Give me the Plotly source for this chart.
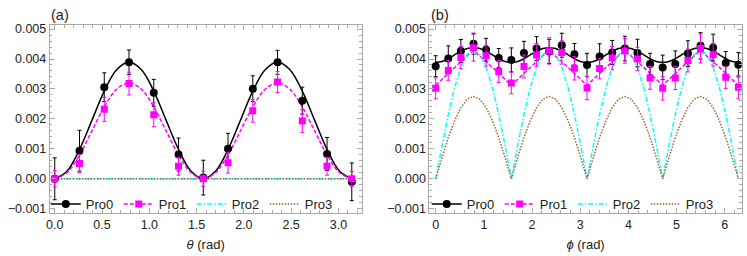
import numpy as np
import plotly.graph_objects as go

# ---------------- data ----------------
theta_pts = [0.0, 0.2618, 0.5236, 0.7854, 1.0472, 1.3090, 1.5708,
             1.8326, 2.0944, 2.3562, 2.6180, 2.8798, 3.1416]
pro0_a_pts = [0.00000, 0.00094, 0.00306, 0.00389, 0.00287, 0.00081, 0.00004,
              0.00100, 0.00301, 0.00389, 0.00261, 0.00083, -0.00010]
pro0_a_err = [0.00070, 0.00068, 0.00048, 0.00041, 0.00045, 0.00055, 0.00058,
              0.00052, 0.00043, 0.00040, 0.00045, 0.00055, 0.00063]
pro1_a_pts = [0.00000, 0.00051, 0.00232, 0.00318, 0.00214, 0.00042, 0.00000,
              0.00054, 0.00227, 0.00323, 0.00193, 0.00042, 0.00000]
pro1_a_err = [0.00027, 0.00030, 0.00040, 0.00038, 0.00040, 0.00030, 0.00025,
              0.00035, 0.00038, 0.00035, 0.00038, 0.00030, 0.00025]

theta_curve = np.linspace(0, np.pi, 25)
pro0_a_curve = [0.0, 0.00026, 0.00098, 0.00195, 0.00293, 0.00364, 0.00390,
                0.00364, 0.00293, 0.00195, 0.00098, 0.00026, 0.0,
                0.00026, 0.00098, 0.00195, 0.00293, 0.00364, 0.00390,
                0.00364, 0.00293, 0.00195, 0.00098, 0.00026, 0.0]
pro1_a_curve = [0.0, 0.00021, 0.00080, 0.00160, 0.00240, 0.00299, 0.00320,
                0.00299, 0.00240, 0.00160, 0.00080, 0.00021, 0.0,
                0.00021, 0.00080, 0.00160, 0.00240, 0.00299, 0.00320,
                0.00299, 0.00240, 0.00160, 0.00080, 0.00021, 0.0]
theta_flat = [0.0, 3.1416]
pro2_a_curve = [0.0, 0.0]
pro3_a_curve = [0.0, 0.0]

phi_pts = [0.0, 0.2618, 0.5236, 0.7854, 1.0472, 1.3090, 1.5708, 1.8326,
           2.0944, 2.3562, 2.6180, 2.8798, 3.1416, 3.4034, 3.6652, 3.9270,
           4.1888, 4.4506, 4.7124, 4.9742, 5.2360, 5.4978, 5.7596, 6.0214,
           6.2832]
pro0_b_pts = [0.00376, 0.00402, 0.00427, 0.00451, 0.00431, 0.00403, 0.00397,
              0.00420, 0.00435, 0.00425, 0.00446, 0.00416, 0.00380, 0.00408,
              0.00422, 0.00435, 0.00420, 0.00383, 0.00372, 0.00383, 0.00418,
              0.00444, 0.00438, 0.00387, 0.00381]
pro0_b_err = [0.00035, 0.00042, 0.00038, 0.00035, 0.00038, 0.00032, 0.00040,
              0.00039, 0.00040, 0.00040, 0.00040, 0.00036, 0.00039, 0.00043,
              0.00040, 0.00041, 0.00046, 0.00036, 0.00041, 0.00044, 0.00043,
              0.00044, 0.00045, 0.00038, 0.00041]
pro1_b_pts = [0.00302, 0.00362, 0.00405, 0.00438, 0.00411, 0.00358, 0.00320,
              0.00375, 0.00413, 0.00427, 0.00422, 0.00369, 0.00303, 0.00368,
              0.00403, 0.00427, 0.00400, 0.00337, 0.00302, 0.00337, 0.00395,
              0.00435, 0.00414, 0.00339, 0.00306]
pro1_b_err = [0.00035, 0.00033, 0.00037, 0.00045, 0.00035, 0.00037, 0.00036,
              0.00038, 0.00039, 0.00044, 0.00039, 0.00039, 0.00039, 0.00034,
              0.00039, 0.00041, 0.00039, 0.00038, 0.00039, 0.00039, 0.00038,
              0.00048, 0.00038, 0.00037, 0.00039]

phi_curve = np.linspace(0, 2 * np.pi, 49)
pro0_b_curve = [0.00389, 0.00392, 0.00401, 0.00414, 0.00426, 0.00435, 0.00438,
                0.00435, 0.00426, 0.00414, 0.00401, 0.00392, 0.00389,
                0.00392, 0.00401, 0.00414, 0.00426, 0.00435, 0.00438,
                0.00435, 0.00426, 0.00414, 0.00401, 0.00392, 0.00389,
                0.00392, 0.00401, 0.00414, 0.00426, 0.00435, 0.00438,
                0.00435, 0.00426, 0.00414, 0.00401, 0.00392, 0.00389,
                0.00392, 0.00401, 0.00414, 0.00426, 0.00435, 0.00438,
                0.00435, 0.00426, 0.00414, 0.00401, 0.00392, 0.00389]
pro1_b_curve = [0.00312, 0.00332, 0.00352, 0.00372, 0.00391, 0.00411, 0.00428,
                0.00411, 0.00391, 0.00372, 0.00352, 0.00332, 0.00312,
                0.00332, 0.00352, 0.00372, 0.00391, 0.00411, 0.00428,
                0.00411, 0.00391, 0.00372, 0.00352, 0.00332, 0.00312,
                0.00332, 0.00352, 0.00372, 0.00391, 0.00411, 0.00428,
                0.00411, 0.00391, 0.00372, 0.00352, 0.00332, 0.00312,
                0.00332, 0.00352, 0.00372, 0.00391, 0.00411, 0.00428,
                0.00411, 0.00391, 0.00372, 0.00352, 0.00332, 0.00312]
pro2_b_curve = [0.0, 0.00111, 0.00215, 0.00304, 0.00372, 0.00415, 0.00430,
                0.00415, 0.00372, 0.00304, 0.00215, 0.00111, 0.0,
                0.00111, 0.00215, 0.00304, 0.00372, 0.00415, 0.00430,
                0.00415, 0.00372, 0.00304, 0.00215, 0.00111, 0.0,
                0.00111, 0.00215, 0.00304, 0.00372, 0.00415, 0.00430,
                0.00415, 0.00372, 0.00304, 0.00215, 0.00111, 0.0,
                0.00111, 0.00215, 0.00304, 0.00372, 0.00415, 0.00430,
                0.00415, 0.00372, 0.00304, 0.00215, 0.00111, 0.0]
pro3_b_curve = [0.0, 0.00071, 0.00138, 0.00194, 0.00238, 0.00266, 0.00275,
                0.00266, 0.00238, 0.00194, 0.00138, 0.00071, 0.0,
                0.00071, 0.00138, 0.00194, 0.00238, 0.00266, 0.00275,
                0.00266, 0.00238, 0.00194, 0.00138, 0.00071, 0.0,
                0.00071, 0.00138, 0.00194, 0.00238, 0.00266, 0.00275,
                0.00266, 0.00238, 0.00194, 0.00138, 0.00071, 0.0,
                0.00071, 0.00138, 0.00194, 0.00238, 0.00266, 0.00275,
                0.00266, 0.00238, 0.00194, 0.00138, 0.00071, 0.0]

series_names = ["Pro0", "Pro1", "Pro2", "Pro3"]

# ---------------- styles ----------------
FONT = "Liberation Sans, Arial, sans-serif"
BLACK = "#000000"
MAGENTA = "#FF00FF"
CYAN = "#00FFFF"
BROWN = "#996633"
FRAME = "#a8a8a8"
TXT = "#222222"
LW = 1.5
line_styles = [
    dict(color=BLACK, width=LW, dash="solid"),
    dict(color=MAGENTA, width=LW, dash="4px,2px"),
    dict(color=CYAN, width=LW, dash="5px,2px,1.5px,2px"),
    dict(color=BROWN, width=LW, dash="1.5px,1.5px"),
]
markers = [dict(symbol="circle", size=8, color=BLACK),
           dict(symbol="square", size=7, color=MAGENTA)]

fig = go.Figure()


def add_panel(xa, ya, leg, curves, shapes, xp, pts, errs):
    # theory curves
    for i, (xcv, ycv) in enumerate(curves):
        show = i >= 2
        ls = dict(line_styles[i])
        ls["shape"] = shapes[i]
        fig.add_trace(go.Scatter(
            x=xcv, y=ycv, mode="lines", line=ls, name=series_names[i],
            xaxis=xa, yaxis=ya, legend=leg, showlegend=show,
            legendrank=i + 1, hoverinfo="skip"))
    # measured points
    for i in range(2):
        fig.add_trace(go.Scatter(
            x=xp, y=pts[i], mode="markers", marker=markers[i],
            error_y=dict(type="data", array=errs[i], color=line_styles[i]["color"],
                         thickness=1, width=2),
            xaxis=xa, yaxis=ya, showlegend=False, name=series_names[i]))
    # legend entries (line + marker)
    for i in range(2):
        fig.add_trace(go.Scatter(
            x=[None], y=[None], mode="lines+markers",
            line=line_styles[i], marker=markers[i], name=series_names[i],
            xaxis=xa, yaxis=ya, legend=leg, legendrank=i + 1))


add_panel("x", "y", "legend",
          [(theta_curve, pro0_a_curve), (theta_curve, pro1_a_curve),
           (theta_flat, pro2_a_curve), (theta_flat, pro3_a_curve)],
          ["spline", "spline", "linear", "linear"],
          theta_pts, [pro0_a_pts, pro1_a_pts], [pro0_a_err, pro1_a_err])
add_panel("x2", "y2", "legend2",
          [(phi_curve, pro0_b_curve), (phi_curve, pro1_b_curve),
           (phi_curve, pro2_b_curve), (phi_curve, pro3_b_curve)],
          ["spline", "linear", "linear", "linear"],
          phi_pts, [pro0_b_pts, pro1_b_pts], [pro0_b_err, pro1_b_err])

W, H = 747, 256
ydom = [1 - 215 / H, 1 - 22.7 / H]
common_axis = dict(
    showline=True, linecolor=FRAME, linewidth=1, mirror="ticks",
    ticks="inside", ticklen=5, tickwidth=1, tickcolor=FRAME,
    showgrid=False, zeroline=False,
    tickfont=dict(family=FONT, size=12.5, color=TXT),
)
minor_common = dict(ticks="inside", ticklen=2.5, tickwidth=1, tickcolor=FRAME, showgrid=False)
legend_common = dict(xanchor="left", y=1 - 206 / H, yanchor="middle",
                     orientation="h", bgcolor="rgba(0,0,0,0)", entrywidth=28,
                     font=dict(family=FONT, size=13, color=TXT))

fig.update_layout(
    width=W, height=H,
    margin=dict(l=0, r=0, t=0, b=0),
    paper_bgcolor="white", plot_bgcolor="white",
    font=dict(family=FONT, size=13, color=TXT),
    xaxis=dict(domain=[46 / W, 359.5 / W], anchor="y", range=[-0.053, 3.245],
               tick0=0, dtick=0.5, tickformat=".1f",
               minor=dict(dtick=0.1, **minor_common),
               title=dict(text="<i>θ</i> (rad)", standoff=8,
                          font=dict(family=FONT, size=13, color=TXT)),
               **common_axis),
    yaxis=dict(domain=ydom, anchor="x", range=[-0.00114, 0.00513],
               tick0=0, dtick=0.001, tickformat=".3f",
               minor=dict(dtick=0.0002, **minor_common), **common_axis),
    xaxis2=dict(domain=[427.7 / W, 741.7 / W], anchor="y2", range=[-0.13, 6.353],
                tick0=0, dtick=1, tickformat="d",
                minor=dict(dtick=0.2, **minor_common),
                title=dict(text="<i>ϕ</i> (rad)", standoff=8,
                           font=dict(family=FONT, size=13, color=TXT)),
                **common_axis),
    yaxis2=dict(domain=ydom, anchor="x2", range=[-0.00114, 0.00513],
                tick0=0, dtick=0.001, tickformat=".3f",
                minor=dict(dtick=0.0002, **minor_common), **common_axis),
    legend=dict(x=42 / W, **legend_common),
    legend2=dict(x=425 / W, **legend_common),
    annotations=[
        dict(text="(a)", x=56 / W, y=1 - 12.5 / H, xref="paper", yref="paper",
             xanchor="center", yanchor="middle", showarrow=False,
             font=dict(family=FONT, size=14.5, color=TXT)),
        dict(text="(b)", x=438 / W, y=1 - 12.5 / H, xref="paper", yref="paper",
             xanchor="center", yanchor="middle", showarrow=False,
             font=dict(family=FONT, size=14.5, color=TXT)),
    ],
)

fig.write_html("out.html", config={"displayModeBar": False},
               post_script="document.body.style.margin='0px';")
